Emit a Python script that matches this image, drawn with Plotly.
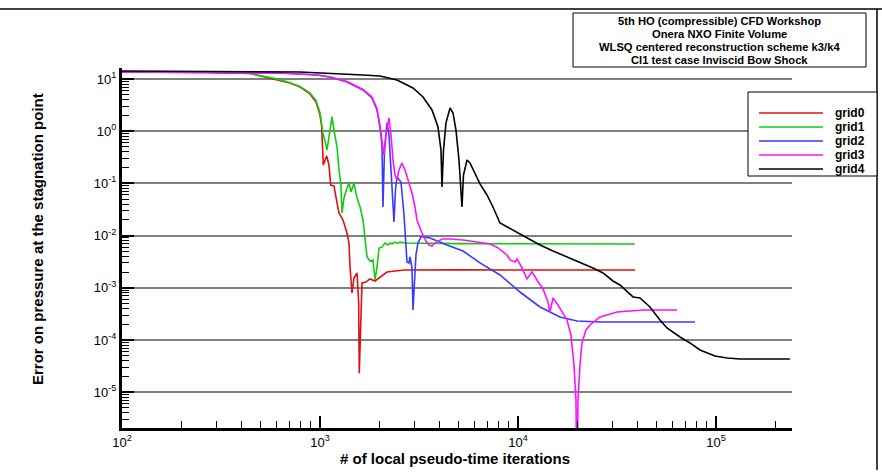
import plotly.graph_objects as go

# ---------------- data ----------------
grid0_x = [100, 248, 443, 559, 628, 705, 792, 889, 955, 1000, 1020, 1039, 1081, 1110, 1132,
           1177, 1219, 1248, 1307, 1369, 1401, 1418, 1451, 1485, 1538, 1568, 1579, 1605,
           1630, 1707, 1788, 1896, 2009, 2180, 2392, 2688, 5000, 39000]
grid0_y = [13.6, 13.6, 12.7, 10.4, 9.57, 8.38, 7.03, 5.16, 3.62, 2.04, 1.22, 0.225, 0.335,
           0.225, 0.093, 0.089, 0.0422, 0.0271, 0.0199, 0.0112, 0.0072, 0.0025, 7.95e-4,
           1.54e-3, 1.92e-3, 5.1e-4, 2.3e-5, 3.3e-4, 1.24e-3, 1.29e-3, 1.48e-3, 1.35e-3,
           1.61e-3, 2.0e-3, 2.1e-3, 2.19e-3, 2.2e-3, 2.19e-3]

grid1_x = [100, 248, 443, 559, 628, 705, 792, 889, 955, 1000, 1035, 1085, 1110, 1150, 1177,
           1219, 1248, 1276, 1292, 1322, 1369, 1401, 1434, 1485, 1538, 1593, 1649, 1688,
           1728, 1788, 1852, 1896, 1941, 1987, 2056, 2130, 2205, 2260, 2310, 2392, 2460,
           2535, 2688, 5000, 39000]
grid1_y = [13.6, 13.6, 12.8, 10.6, 9.7, 8.5, 7.2, 5.4, 3.9, 2.23, 0.924, 0.436, 0.774, 1.87,
           1.05, 0.498, 0.181, 0.093, 0.0271, 0.0525, 0.0817, 0.102, 0.0684, 0.102, 0.0525,
           0.0353, 0.0199, 0.0082, 0.00389, 0.00326, 0.00341, 0.00141, 0.0025, 0.00578,
           0.0060, 0.0072, 0.0066, 0.0072, 0.0069, 0.0075, 0.0071, 0.0075, 0.0072, 0.0070,
           0.0069]

grid2_x = [100, 408, 628, 966, 1123, 1369, 1649, 1830, 1941, 2009, 2056, 2080, 2118, 2180,
           2231, 2284, 2337, 2364, 2406, 2448, 2565, 2657, 2750, 2815, 2848, 2915, 2949,
           2983, 3053, 3125, 3237, 3314, 3594, 4380, 5275, 6427, 8112, 10234, 12920, 16300,
           19860, 25950, 78340]
grid2_y = [13.6, 13.0, 13.0, 11.9, 10.9, 8.76, 6.16, 4.33, 2.55, 1.20, 0.545, 0.0353, 0.436,
           1.44, 0.846, 0.181, 0.0309, 0.0182, 0.0748, 0.133, 0.106, 0.0248, 0.00312,
           0.00299, 0.00389, 0.00239, 3.76e-4, 9.1e-4, 0.00425, 0.0072, 0.0094, 0.0094,
           0.0090, 0.0066, 0.00507, 0.00299, 0.00176, 8.3e-4, 4.29e-4, 2.76e-4, 2.31e-4,
           2.21e-4, 2.21e-4]

grid3_x = [100, 408, 628, 966, 1123, 1369, 1649, 1830, 1941, 2009, 2056, 2104, 2154, 2231,
           2284, 2337, 2392, 2448, 2506, 2594, 2688, 2750, 2848, 2915, 3018, 3089, 3199,
           3275, 3431, 3553, 3679, 3810, 4133, 4536, 5275, 6427, 7220, 7833, 8400, 8800,
           9112, 9656, 9887, 10356, 11105, 11765, 12470, 13380, 14180, 14510, 15030, 15920,
           17680, 18520, 19180, 19630, 19860, 20090, 20560, 21050, 22050, 23100, 25950,
           31620, 42790, 63530]
grid3_y = [13.6, 13.0, 13.0, 11.9, 10.9, 8.9, 6.3, 4.5, 2.7, 1.25, 0.677, 0.350, 0.846, 1.79,
           0.846, 0.281, 0.145, 0.116, 0.181, 0.246, 0.181, 0.133, 0.0932, 0.0655, 0.0353,
           0.0199, 0.0140, 0.0112, 0.00788, 0.0066, 0.0063, 0.0072, 0.0086, 0.0086, 0.0082,
           0.0075, 0.0069, 0.0060, 0.00485, 0.00425, 0.00341, 0.00312, 0.00356, 0.00262,
           0.00148, 0.00201, 0.00141, 9.5e-4, 5.35e-4, 3.44e-4, 6.38e-4, 4.68e-4, 2.42e-4,
           1.25e-4, 3.3e-5, 7.1e-6, 1e-7, 7.1e-6, 3.3e-5, 8.77e-5, 1.56e-4, 1.94e-4,
           2.76e-4, 3.44e-4, 3.76e-4, 3.76e-4]

grid4_x = [100, 792, 1649, 2009, 2448, 2949, 3314, 3679, 3945, 4084, 4133, 4205, 4329, 4536,
           4696, 4863, 5035, 5153, 5214, 5305, 5526, 5723, 6065, 6427, 6971, 7476, 8112,
           8800, 9435, 11105, 12920, 15030, 17680, 20560, 23920, 26880, 30190, 32750,
           35530, 38100, 41330, 46420, 52140, 56560, 65800, 73910, 83010, 98830, 113700,
           132200, 236400]
grid4_y = [14.2, 13.6, 11.9, 11.4, 9.57, 6.73, 4.52, 2.55, 1.20, 0.436, 0.0853, 0.436, 1.44,
           2.78, 2.23, 1.05, 0.281, 0.0932, 0.0353, 0.145, 0.281, 0.246, 0.158, 0.0975,
           0.0600, 0.0353, 0.0174, 0.0146, 0.0128, 0.0090, 0.0066, 0.00507, 0.00389,
           0.00312, 0.00239, 0.00192, 0.00135, 0.00113, 8.3e-4, 6.67e-4, 6.38e-4, 4.29e-4,
           2.42e-4, 1.70e-4, 1.14e-4, 8.77e-5, 6.43e-5, 4.93e-5, 4.52e-5, 4.32e-5, 4.32e-5]

series_names = ["grid0", "grid1", "grid2", "grid3", "grid4"]
series_x = [grid0_x, grid1_x, grid2_x, grid3_x, grid4_x]
series_y = [grid0_y, grid1_y, grid2_y, grid3_y, grid4_y]
series_colors = ["#dd1111", "#11cc11", "#3a3aff", "#ff11ff", "#000000"]

x_tick_vals = [1e2, 1e3, 1e4, 1e5]
x_tick_text = ["10<sup>2</sup>", "10<sup>3</sup>", "10<sup>4</sup>", "10<sup>5</sup>"]
y_tick_vals = [1e-5, 1e-4, 1e-3, 1e-2, 1e-1, 1e0, 1e1]
y_tick_text = ["10<sup>-5</sup>", "10<sup>-4</sup>", "10<sup>-3</sup>", "10<sup>-2</sup>",
               "10<sup>-1</sup>", "10<sup>0</sup>", "10<sup>1</sup>"]

title_lines = ["5th HO (compressible) CFD Workshop",
               "Onera NXO Finite Volume",
               "WLSQ centered reconstruction scheme k3/k4",
               "CI1 test case Inviscid Bow Shock"]
x_title = "# of local pseudo-time iterations"
y_title = "Error on pressure at the stagnation point"

# ---------------- figure ----------------
FONT = "Arial, Liberation Sans, sans-serif"
W, H = 882, 475
L, R, T, B = 122, 90, 68, 47
PW, PH = W - L - R, H - T - B


def px(xp):
    return (xp - L) / PW


def py(yp):
    return (H - B - yp) / PH


fig = go.Figure()
for name, xs, ys, c in zip(series_names, series_x, series_y, series_colors):
    fig.add_trace(go.Scatter(x=xs, y=ys, mode="lines", name=name, showlegend=False,
                             line=dict(color=c, width=1.6)))

x_minor = [k * 10 ** e for e in range(2, 6) for k in range(2, 10) if k * 10 ** e < 2.5e5]
y_minor = [k * 10 ** e for e in range(-6, 2) for k in range(2, 10) if 2e-6 < k * 10 ** e < 16]

fig.update_xaxes(type="log", range=[2, 5.384], showgrid=False, zeroline=False,
                 showline=True, linecolor="black", linewidth=3, automargin=False,
                 ticks="inside", ticklen=12, tickwidth=2, tickcolor="black",
                 tickvals=x_tick_vals, ticktext=x_tick_text,
                 tickfont=dict(size=13, family=FONT, color="black"),
                 minor=dict(ticks="inside", ticklen=7, tickwidth=1, tickcolor="black",
                            tickvals=x_minor, showgrid=False))
fig.update_yaxes(type="log", range=[-5.686, 1.21], showgrid=True, gridcolor="#808080",
                 gridwidth=1.5, zeroline=False, automargin=False,
                 showline=True, linecolor="black", linewidth=3,
                 ticks="inside", ticklen=12, tickwidth=2, tickcolor="black",
                 tickvals=y_tick_vals, ticktext=y_tick_text,
                 tickfont=dict(size=13, family=FONT, color="black"),
                 minor=dict(ticks="inside", ticklen=7, tickwidth=1, tickcolor="black",
                            tickvals=y_minor, showgrid=False))

annotations = [
    dict(text="<b>" + x_title + "</b>", x=px(455), y=py(458), xref="paper", yref="paper",
         showarrow=False, font=dict(size=15, family=FONT, color="black"),
         xanchor="center", yanchor="middle"),
    dict(text="<b>" + y_title + "</b>", x=px(37), y=py(239), xref="paper", yref="paper",
         showarrow=False, textangle=-90, font=dict(size=15, family=FONT, color="black"),
         xanchor="center", yanchor="middle"),
]
for i, line in enumerate(title_lines):
    annotations.append(dict(text="<b>" + line + "</b>", x=px(719), y=py(21 + 13 * i),
                            xref="paper", yref="paper", showarrow=False,
                            font=dict(size=11.2, family=FONT, color="black"),
                            xanchor="center", yanchor="middle"))

shapes = [
    dict(type="rect", xref="paper", yref="paper", x0=px(573), x1=px(866), y0=py(67), y1=py(13),
         line=dict(color="black", width=1), fillcolor="white", layer="below"),
    dict(type="line", xref="paper", yref="paper", x0=px(0), x1=px(882), y0=py(9), y1=py(9),
         line=dict(color="black", width=1.5)),
    dict(type="line", xref="paper", yref="paper", x0=px(877), x1=px(877), y0=py(9), y1=py(470),
         line=dict(color="black", width=1.5)),
    # legend box
    dict(type="rect", xref="paper", yref="paper", x0=px(748), x1=px(877), y0=py(176), y1=py(92),
         line=dict(color="black", width=1), fillcolor="white", layer="above"),
]
for i, (name, c) in enumerate(zip(series_names, series_colors)):
    yy = py(113 + 14 * i)
    shapes.append(dict(type="line", xref="paper", yref="paper", x0=px(759), x1=px(823),
                       y0=yy, y1=yy, line=dict(color=c, width=1.6), layer="above"))
    annotations.append(dict(text="<b>" + name + "</b>", x=px(833), y=yy, xref="paper",
                            yref="paper", showarrow=False, xanchor="left", yanchor="middle",
                            font=dict(size=12, family=FONT, color="black")))

fig.update_layout(
    width=W, height=H,
    margin=dict(l=L, r=R, t=T, b=B, pad=0),
    paper_bgcolor="white", plot_bgcolor="white",
    font=dict(family=FONT, color="black"),
    showlegend=False,
    annotations=annotations,
    shapes=shapes,
)

fig.write_html("out.html", config={"displayModeBar": False},
               post_script="document.body.style.margin='0';")
